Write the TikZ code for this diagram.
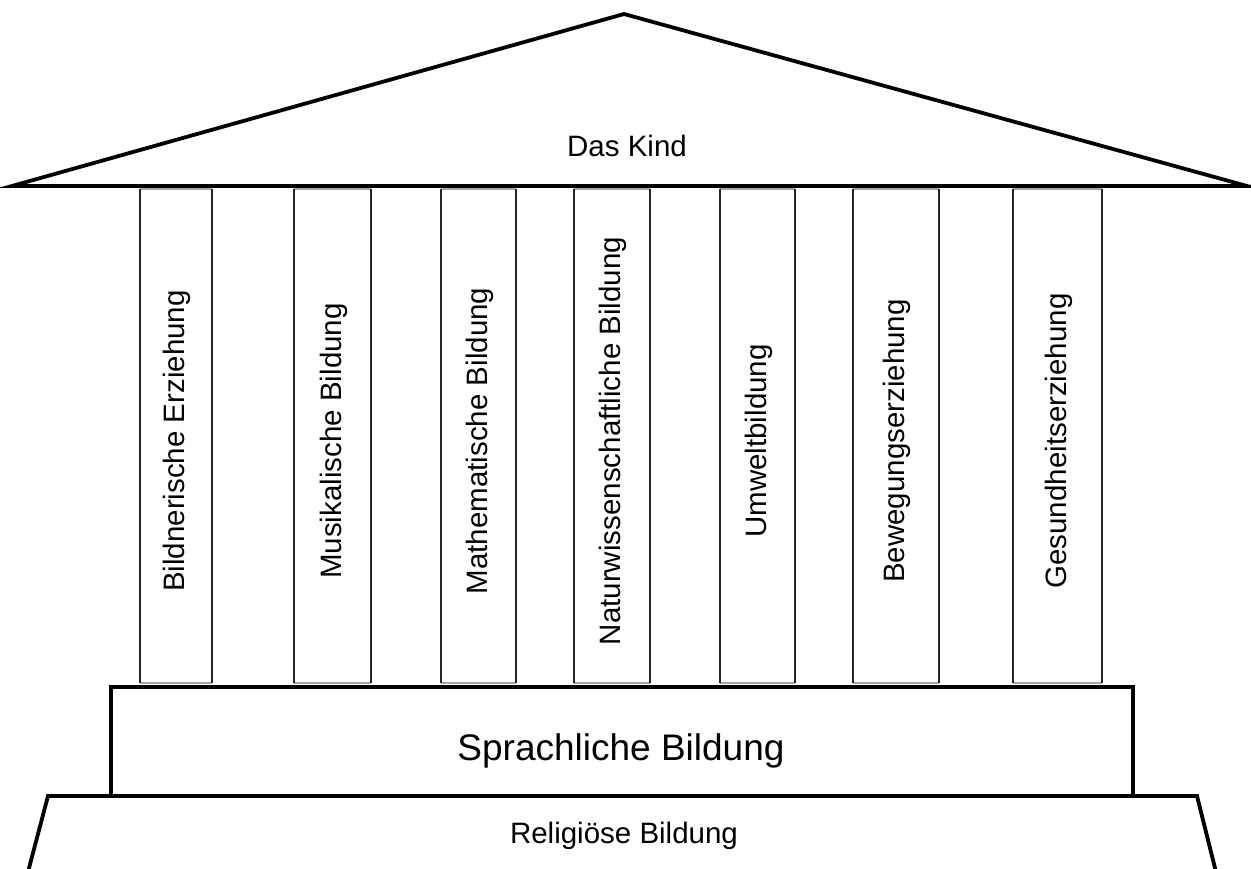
\documentclass[tikz,border=0pt]{standalone}
\usepackage{fontspec}
\setmainfont{Liberation Sans}
\begin{document}
\begin{tikzpicture}[x=1pt,y=-1pt,
  thick line/.style={line width=3.8pt,line join=miter},
  pillarside/.style={line width=1.2pt,black!85},
  pillaredge/.style={line width=1.2pt,black!35},
  small/.style={font=\fontsize{29.5}{34}\selectfont,inner sep=0pt},
  big/.style={font=\fontsize{37}{44}\selectfont,inner sep=0pt},
  vlabel/.style={small,rotate=90,anchor=center}]
\useasboundingbox (0,0) rectangle (1251,868);
\begin{scope}
\clip (0,0) rectangle (1251,868);
% roof
\coordinate (rl) at (12,186);
\coordinate (rt) at (624,14);
\coordinate (rr) at (1247,186);
\draw[thick line] (rl) -- (rt) -- (rr) -- cycle;
\node[small] (kind) at (627,146) {Das Kind};
% pillars
\foreach \n/\a/\b/\t in {p1/140/212/Bildnerische Erziehung,
  p2/294/371/Musikalische Bildung,
  p3/441/516/Mathematische Bildung,
  p4/574/650/Naturwissenschaftliche Bildung,
  p5/720/795/Umweltbildung,
  p6/853/939/Bewegungserziehung,
  p7/1013/1102/Gesundheitserziehung}{
  \coordinate (\n tl) at (\a,189);
  \coordinate (\n tr) at (\b,189);
  \coordinate (\n bl) at (\a,683);
  \coordinate (\n br) at (\b,683);
  \draw[pillaredge] (\n tl) -- (\n tr);
  \draw[pillaredge] (\n bl) -- (\n br);
  \draw[pillarside] (\n tl) -- (\n bl);
  \draw[pillarside] (\n tr) -- (\n br);
  \node[vlabel] (\n) at ({(\a+\b)/2+1},441) {\t};
}
% base block
\coordinate (sl) at (111,687);
\coordinate (sr) at (1133,796);
\draw[thick line] (sl) rectangle (sr);
\node[big] (sprach) at (621,751) {Sprachliche Bildung};
% foundation
\coordinate (fbl) at (28,872);
\coordinate (ftl) at (48,796);
\coordinate (ftr) at (1197,796);
\coordinate (fbr) at (1216,872);
\draw[thick line] (fbl) -- (ftl) -- (ftr) -- (fbr);
\node[small] (relig) at (624,836) {Religiöse Bildung};
\end{scope}
\end{tikzpicture}
\end{document}
